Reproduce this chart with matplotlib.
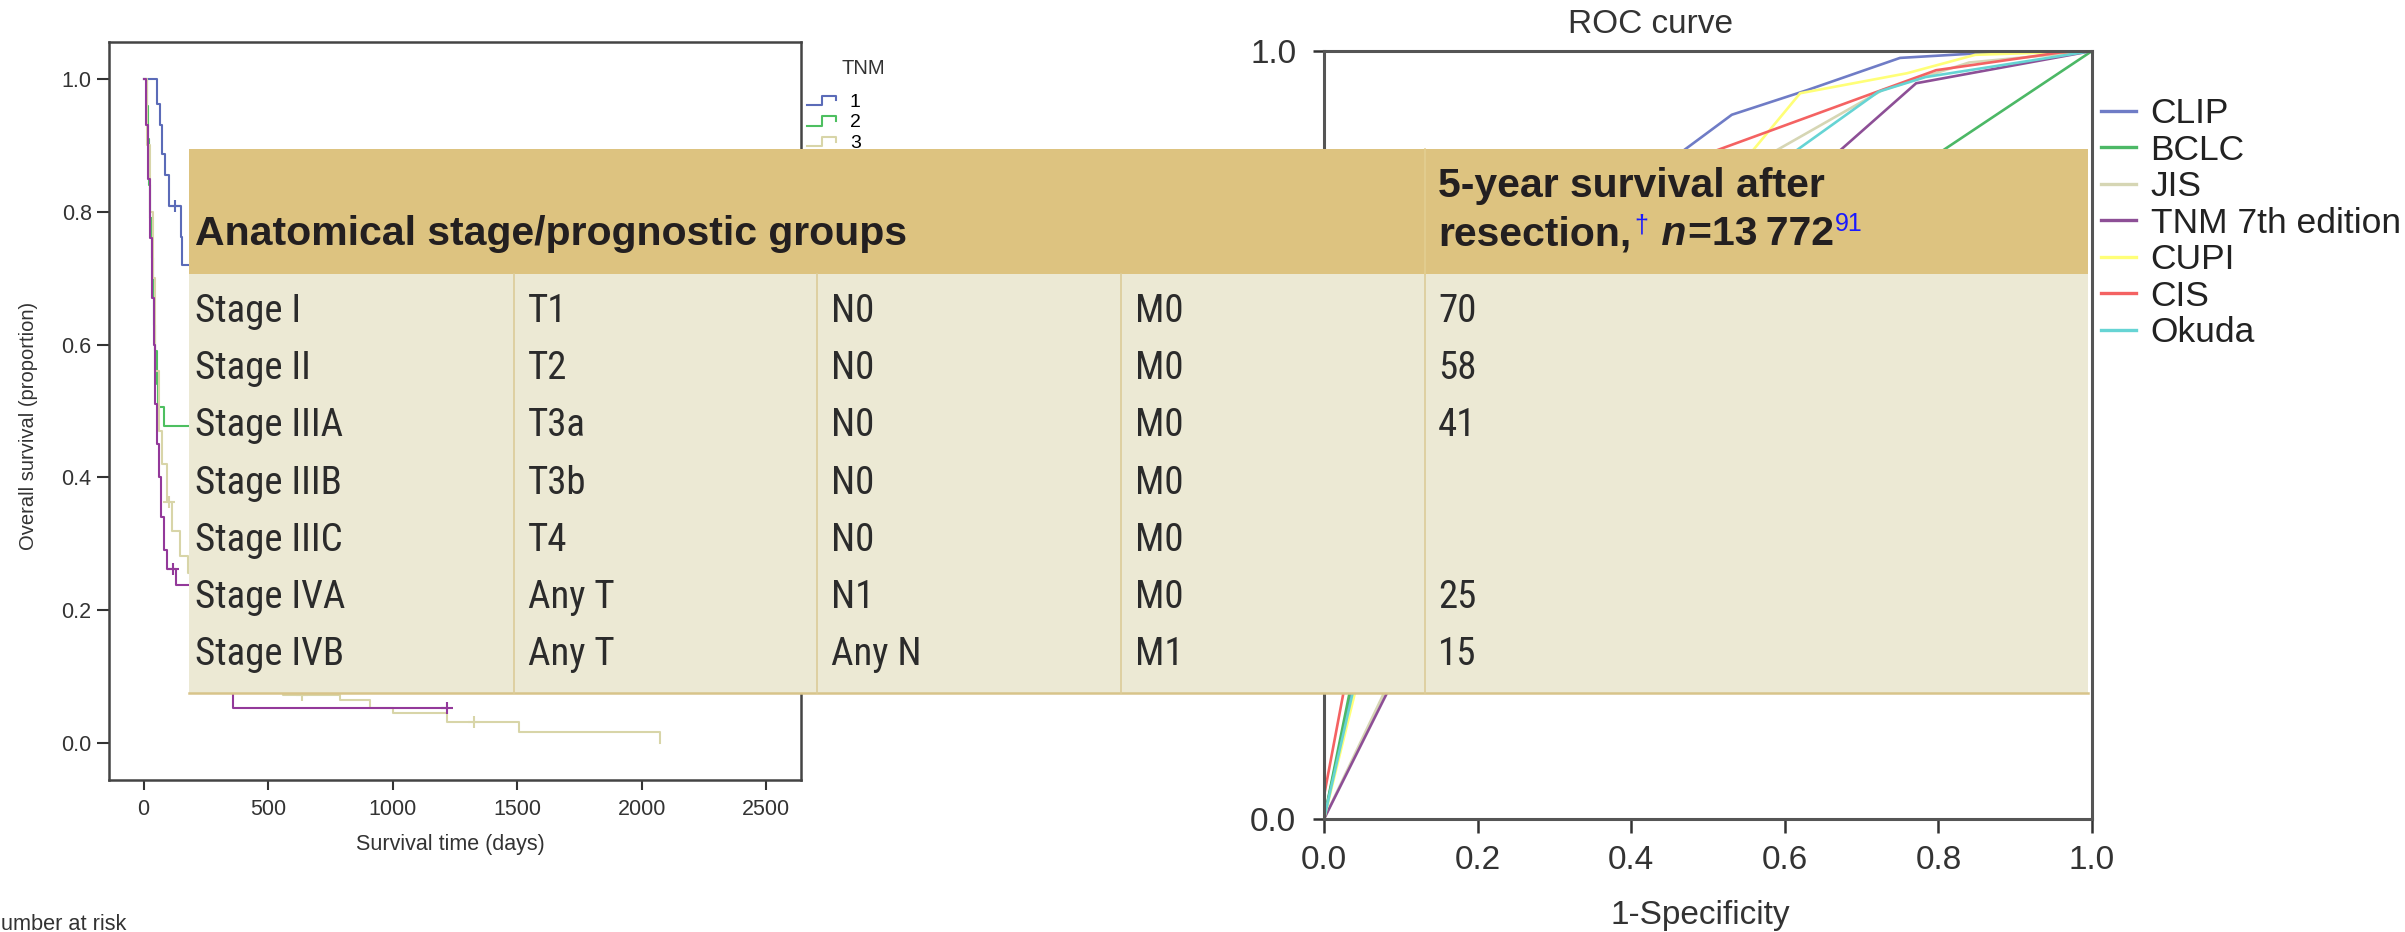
import matplotlib
matplotlib.use("Agg")
import matplotlib.pyplot as plt
from matplotlib import font_manager as fm
from matplotlib.lines import Line2D
from matplotlib.patches import Rectangle
from matplotlib.legend_handler import HandlerBase

plt.rcParams['font.family'] = ['Liberation Sans', 'DejaVu Sans']

# ---------------- Kaplan-Meier data (days, survival proportion) ----------------
km_labels = ['1', '2', '3', '4']
km_colors = ['#5b6bb8', '#4dbf60', '#d8d5a8', '#93399a']

tnm1_days = [0, 53, 66, 75, 86, 100, 150, 155, 185]
tnm1_surv = [1.0, 0.962, 0.93, 0.887, 0.856, 0.809, 0.762, 0.72, 0.72]
tnm1_cens_days = [126]
tnm1_cens_surv = [0.809]

tnm2_days = [0, 12, 17, 22, 27, 32, 37, 42, 47, 52, 58, 80, 185]
tnm2_surv = [1.0, 0.96, 0.91, 0.84, 0.79, 0.73, 0.68, 0.63, 0.59, 0.54, 0.506, 0.478, 0.478]

tnm3_days = [0, 14, 25, 36, 46, 60, 75, 93, 113, 147, 179, 250, 400, 560,
             789, 908, 1002, 1220, 1507, 2074]
tnm3_surv = [1.0, 0.90, 0.80, 0.70, 0.56, 0.47, 0.42, 0.363, 0.319, 0.282, 0.256,
             0.15, 0.10, 0.072, 0.065, 0.053, 0.045, 0.032, 0.017, 0.0]
tnm3_cens_days = [100, 637, 1327]
tnm3_cens_surv = [0.363, 0.072, 0.032]

tnm4_days = [0, 10, 18, 26, 34, 40, 46, 53, 60, 70, 80, 95, 130, 357, 1217]
tnm4_surv = [1.0, 0.93, 0.85, 0.76, 0.67, 0.60, 0.51, 0.45, 0.40, 0.34, 0.29,
             0.262, 0.238, 0.053, 0.053]
tnm4_cens_days = [118, 1217]
tnm4_cens_surv = [0.262, 0.053]

km_xticks = [0, 500, 1000, 1500, 2000, 2500]
km_yticks = [0.0, 0.2, 0.4, 0.6, 0.8, 1.0]

# ---------------- ROC data (1-specificity, sensitivity) ----------------
roc_names = ['CLIP', 'BCLC', 'JIS', 'TNM 7th edition', 'CUPI', 'CIS', 'Okuda']
roc_colors = ['#6f7cc6', '#4cb866', '#d6d6b4', '#8d4f96', '#ffff78', '#f46262', '#66d4d4']
clip_fpr = [0, 0.07, 0.22, 0.40, 0.531, 0.629, 0.750, 0.852, 1.0]
clip_tpr = [0, 0.326, 0.62, 0.82, 0.917, 0.949, 0.991, 0.997, 1.0]
bclc_fpr = [0, 0.06, 0.35, 0.70, 1.0]
bclc_tpr = [0, 0.296, 0.62, 0.80, 1.0]
jis_fpr = [0, 0.10, 0.30, 0.50, 0.727, 0.84, 1.0]
jis_tpr = [0, 0.21, 0.58, 0.82, 0.949, 0.985, 1.0]
tnm7_fpr = [0, 0.12, 0.35, 0.60, 0.771, 1.0]
tnm7_tpr = [0, 0.24, 0.55, 0.807, 0.958, 1.0]
cupi_fpr = [0, 0.08, 0.30, 0.50, 0.620, 0.759, 0.848, 1.0]
cupi_tpr = [0, 0.326, 0.62, 0.80, 0.945, 0.971, 0.995, 1.0]
cis_fpr = [0, 0, 0.05, 0.20, 0.40, 0.797, 0.958, 1.0]
cis_tpr = [0, 0.03, 0.295, 0.60, 0.83, 0.975, 0.998, 1.0]
okuda_fpr = [0, 0.06, 0.30, 0.55, 0.722, 0.783, 1.0]
okuda_tpr = [0, 0.264, 0.60, 0.824, 0.947, 0.966, 1.0]
roc_ticks = [0.0, 0.2, 0.4, 0.6, 0.8, 1.0]

# ---------------- Staging table ----------------
table_title = 'Anatomical stage/prognostic groups'
survival_head = '5-year survival after'
stage_names = ['Stage I', 'Stage II', 'Stage IIIA', 'Stage IIIB', 'Stage IIIC', 'Stage IVA', 'Stage IVB']
t_cat = ['T1', 'T2', 'T3a', 'T3b', 'T4', 'Any T', 'Any T']
n_cat = ['N0', 'N0', 'N0', 'N0', 'N0', 'N1', 'Any N']
m_cat = ['M0', 'M0', 'M0', 'M0', 'M0', 'M0', 'M1']
surv_5yr = ['70', '58', '41', '', '', '25', '15']

W, H = 2405, 932
fig = plt.figure(figsize=(W / 100, H / 100), dpi=100)
fig.patch.set_facecolor('white')


def px_axes(left, top, right, bottom):
    return [left / W, (H - bottom) / H, (right - left) / W, (bottom - top) / H]


class StepHandler(HandlerBase):
    """Legend key drawn as a small survival step."""
    def create_artists(self, legend, orig_handle, xdescent, ydescent,
                       width, height, fontsize, trans):
        x0, y0 = -xdescent, -ydescent
        xs = [x0, x0 + 0.45 * width, x0 + 0.45 * width, x0 + 0.88 * width, x0 + 0.88 * width]
        ys = [y0 + 0.1 * height, y0 + 0.1 * height, y0 + 0.8 * height,
              y0 + 0.8 * height, y0 + 0.45 * height]
        ln = Line2D(xs, ys, color=orig_handle.get_color(),
                    lw=orig_handle.get_linewidth(), transform=trans)
        return [ln]


# ---------------- Kaplan-Meier panel ----------------
ax_km = fig.add_axes(px_axes(109, 42, 801, 780))
km_series = [(tnm1_days, tnm1_surv), (tnm2_days, tnm2_surv),
             (tnm3_days, tnm3_surv), (tnm4_days, tnm4_surv)]
km_lines = []
for (d, s), c in zip(km_series, km_colors):
    ln, = ax_km.step(d, s, where='post', color=c, lw=1.5)
    km_lines.append(ln)
for d, s, c in [(tnm1_cens_days, tnm1_cens_surv, km_colors[0]),
                (tnm3_cens_days, tnm3_cens_surv, km_colors[2]),
                (tnm4_cens_days, tnm4_cens_surv, km_colors[3])]:
    ax_km.plot(d, s, '+', color=c, ms=8, mew=1.5, ls='none')

ax_km.set_xlim(-139, 2640)
ax_km.set_ylim(-0.0557, 1.0557)
ax_km.set_xticks(km_xticks)
ax_km.set_yticks(km_yticks)
ax_km.set_yticklabels([f'{v:.1f}' for v in km_yticks])
for sp in ax_km.spines.values():
    sp.set_color('#444444')
    sp.set_linewidth(1.8)
ax_km.tick_params(axis='y', direction='out', length=8.5, width=1.5, pad=4,
                  labelsize=15.5, colors='#333333')
ax_km.tick_params(axis='x', direction='out', length=7, width=1.5, pad=7,
                  labelsize=15.5, colors='#333333')
ax_km.set_xlabel('Survival time (days)', fontsize=15.5, color='#333333')
ax_km.xaxis.set_label_coords(0.494, -0.073)
ax_km.set_ylabel('Overall survival (proportion)', fontsize=14.5, color='#333333')
ax_km.yaxis.set_label_coords(-0.103, 0.48)

ax_km.legend(handles=km_lines, labels=km_labels, handler_map={Line2D: StepHandler()},
             loc='upper left', bbox_to_anchor=(807 / W, 1 - 93 / H),
             bbox_transform=fig.transFigure, frameon=False, fontsize=14,
             handlelength=1.7, handletextpad=0.5, labelspacing=0.15,
             borderpad=0, borderaxespad=0, handleheight=0.7)
fig.text(842 / W, 1 - 68 / H, 'TNM', fontsize=14.5, color='#333333',
         ha='left', va='center')

# ---------------- ROC panel ----------------
ax_roc = fig.add_axes(px_axes(1324, 51, 2092, 819))
roc_series = [(clip_fpr, clip_tpr), (bclc_fpr, bclc_tpr), (jis_fpr, jis_tpr),
              (tnm7_fpr, tnm7_tpr), (cupi_fpr, cupi_tpr), (cis_fpr, cis_tpr),
              (okuda_fpr, okuda_tpr)]
for (fx, ty), c, name in zip(roc_series, roc_colors, roc_names):
    ax_roc.plot(fx, ty, color=c, lw=1.9, label=name)
ax_roc.set_xlim(0, 1)
ax_roc.set_ylim(0, 1)
ax_roc.set_xticks(roc_ticks)
ax_roc.set_yticks([0.0, 1.0])
ax_roc.set_xticklabels([f'{v:.1f}' for v in roc_ticks])
ax_roc.set_yticklabels(['0.0', '1.0'])
for sp in ax_roc.spines.values():
    sp.set_color('#555555')
    sp.set_linewidth(2.2)
ax_roc.tick_params(axis='x', direction='out', length=10, width=1.8, pad=9,
                   labelsize=24, colors='#333333')
ax_roc.tick_params(axis='y', direction='out', length=8, width=1.8, pad=12,
                   labelsize=24, colors='#333333')
ax_roc.set_xlabel('1-Specificity', fontsize=24, color='#333333')
ax_roc.xaxis.set_label_coords(0.49, -0.106)
ax_roc.set_title('ROC curve', x=0.425, y=1.034, va='center', pad=0,
                 fontsize=24, color='#333333')
ax_roc.legend(loc='upper left', bbox_to_anchor=(2101 / W, 1 - 97 / H),
              bbox_transform=fig.transFigure, frameon=False, fontsize=25.5,
              handlelength=1.0, handletextpad=0.4, labelspacing=0.1,
              borderpad=0, borderaxespad=0, labelcolor='#222222')
for lh in ax_roc.get_legend().get_lines():
    lh.set_linewidth(2.4)

fig.text(1 / W, (H - 930) / H, 'umber at risk', fontsize=15.7,
         color='#333333', ha='left', va='baseline')

# ---------------- Staging table drawn on top ----------------
names = {f.name for f in fm.fontManager.ttflist}
narrow = 'Liberation Sans Narrow' if 'Liberation Sans Narrow' in names else (
    'Roboto Condensed' if 'Roboto Condensed' in names else 'Liberation Sans')

ov = fig.add_axes([0, 0, 1, 1])
ov.set_xlim(0, W)
ov.set_ylim(H, 0)
ov.axis('off')
ov.set_zorder(10)

col_edges = [189, 514, 817, 1121, 1425, 2088]
tbl_top, head_bot, tbl_bot = 149, 274, 693
head_fill, body_fill, rule = '#ddc380', '#ece9d4', '#dccc98'

ov.add_patch(Rectangle((col_edges[0], tbl_top), col_edges[-1] - col_edges[0],
                       head_bot - tbl_top, facecolor=head_fill, edgecolor='none'))
ov.add_patch(Rectangle((col_edges[0], head_bot), col_edges[-1] - col_edges[0],
                       tbl_bot - head_bot, facecolor=body_fill, edgecolor='none'))
ov.plot([col_edges[0], col_edges[-1]], [tbl_bot, tbl_bot], color='#d8c48a', lw=1.8)
for xe in col_edges[1:-1]:
    ov.plot([xe, xe], [head_bot, tbl_bot], color=rule, lw=1.2)
ov.plot([col_edges[4], col_edges[4]], [tbl_top, head_bot], color='#e3cf92', lw=1.2)

txt_dark = '#231f20'
head_font = dict(fontsize=29.5, fontweight='bold', color=txt_dark,
                 family=['Liberation Sans', 'DejaVu Sans'])
ov.text(195, 245, table_title, ha='left', va='baseline', **head_font)
ov.text(1438, 197, survival_head, ha='left', va='baseline', **head_font)

renderer = fig.canvas.get_renderer()
runs = [
    ('resection,', dict(head_font), 0, 3),
    ('\u2020', dict(fontsize=18, color='#1a1aff', family=['Liberation Sans', 'DejaVu Sans']), -13, 2),
    (' n', dict(head_font, fontstyle='italic'), 0, 1),
    ('=13\u2009772', dict(head_font), 0, 1),
    ('91', dict(fontsize=18, color='#1a1aff', family=['Liberation Sans', 'DejaVu Sans']), -14, 0),
]
xc = 1438
for s, kw, dy, gap in runs:
    t = ov.text(xc, 245 + dy, s, ha='left', va='baseline', **kw)
    bb = t.get_window_extent(renderer=renderer)
    xc = bb.x1 + gap

body_font = dict(fontsize=28, color='#2b2b2b', family=[narrow, 'DejaVu Sans'])
text_x = [195, 528, 831, 1135, 1438]
columns = [stage_names, t_cat, n_cat, m_cat, surv_5yr]
for i in range(len(stage_names)):
    yb = 322 + 57.2 * i
    for xcol, col in zip(text_x, columns):
        if col[i]:
            ov.text(xcol, yb, col[i], ha='left', va='baseline', **body_font)

fig.savefig('out.png', dpi=100, facecolor='white')
